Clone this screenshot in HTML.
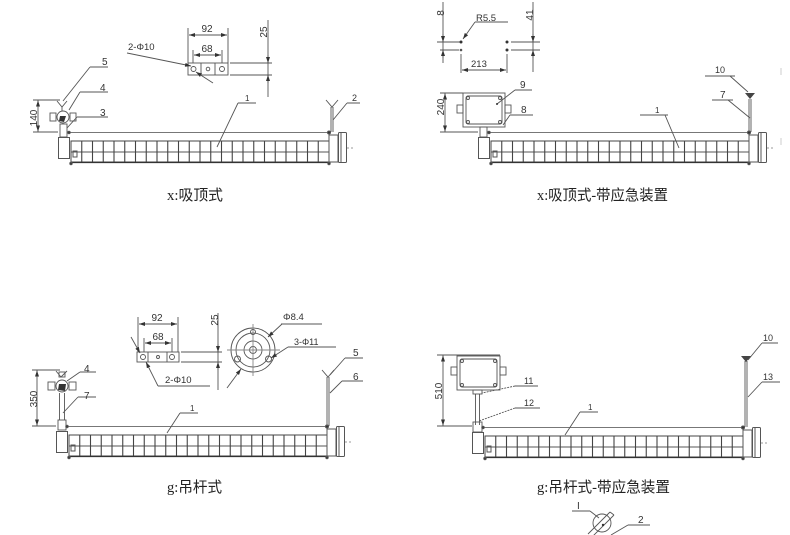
<!DOCTYPE html>
<html><head><meta charset="utf-8">
<style>
html,body{margin:0;padding:0;background:#fff;}
svg{display:block;}
text{font-family:"Liberation Sans","Noto Sans CJK SC",sans-serif;fill:#333;}
.cap{font-family:"Liberation Serif","Noto Sans CJK SC",sans-serif;fill:#222;}
</style></head><body>
<svg width="790" height="535" viewBox="0 0 790 535" xmlns="http://www.w3.org/2000/svg">
<defs>
<marker id="ar" markerWidth="6" markerHeight="4" refX="6" refY="2" orient="auto-start-reverse" markerUnits="userSpaceOnUse">
<path d="M0,0 L6,2 L0,4 z" fill="#333"/>
</marker>
<g id="lamp" fill="none" stroke="#555" stroke-width="1">
<line x1="11" y1="0.5" x2="273" y2="0.5" stroke="#777"/>
<rect x="0.5" y="5.5" width="11" height="21"/>
<rect x="13" y="9" width="258" height="21" stroke="#444"/>
<path d="M13 20H271" stroke="#555"/>
<path d="M23.75 9V30M34.5 9V30M45.25 9V30M56 9V30M66.75 9V30M77.5 9V30M88.25 9V30M99 9V30M109.75 9V30M120.5 9V30M131.25 9V30M142 9V30M152.75 9V30M163.5 9V30M174.25 9V30M185 9V30M195.75 9V30M206.5 9V30M217.25 9V30M228 9V30M238.75 9V30M249.5 9V30M260.25 9V30" stroke="#444" stroke-width="1.1"/>
<rect x="15" y="19" width="4" height="6"/>
<line x1="13" y1="30.5" x2="271" y2="30.5" stroke="#333" stroke-width="1.2"/>
<rect x="271" y="3" width="9" height="27"/>
<rect x="280.5" y="0.5" width="8" height="30" rx="1"/>
<line x1="283" y1="1" x2="283" y2="30"/>
<line x1="289" y1="16" x2="295" y2="16" stroke-dasharray="2 2" stroke="#999"/>
<circle cx="13" cy="31.5" r="1.2" fill="#333"/>
<circle cx="271" cy="31.5" r="1.2" fill="#333"/>
<circle cx="271" cy="0.5" r="1.5" fill="#333"/>
<circle cx="11" cy="0.5" r="1.2" fill="#333"/>
</g>
</defs>

<!-- ============ TOP LEFT ============ -->
<use href="#lamp" transform="translate(58,132)"/>
<g fill="none" stroke="#555" stroke-width="0.9">
  <path d="M57 101 L62 107 L67 101"/>
  <line x1="62" y1="107" x2="62" y2="111"/>
  <circle cx="63" cy="117" r="6"/>
  <rect x="50" y="113" width="6" height="8"/>
  <rect x="70" y="113" width="6" height="8"/>
  <rect x="60" y="124" width="7" height="13"/>
  <path d="M326 100 L332 107 L338 100"/>
  <path d="M331 107V132M333 107V132"/>
  <path d="M33 100H60M33 132H58"/>
  <line x1="38" y1="108" x2="38" y2="100.5" marker-end="url(#ar)"/>
  <line x1="38" y1="124" x2="38" y2="131.5" marker-end="url(#ar)"/>
  <line x1="38" y1="108" x2="38" y2="124"/>
  <path d="M90 67H108M90 67L63 101"/>
  <path d="M80 92H108M80 92L69 110"/>
  <path d="M77 117H108M77 117L67 128"/>
  <path d="M238 103H256M238 103L217 147"/>
  <path d="M347 103H360M347 103L333 120"/>
  <rect x="188" y="63" width="40" height="12"/>
  <path d="M201 63V75M215 63V75"/>
  <circle cx="193.5" cy="69" r="2.5"/>
  <circle cx="208" cy="69" r="1.8"/>
  <circle cx="222" cy="69" r="2.5"/>
  <path d="M188 28V63M228 28V63"/>
  <line x1="189" y1="35" x2="227" y2="35" marker-start="url(#ar)" marker-end="url(#ar)"/>
  <path d="M193 50V63M222 50V63"/>
  <line x1="194" y1="55" x2="221" y2="55" marker-start="url(#ar)" marker-end="url(#ar)"/>
  <path d="M230 63H272M230 75H272"/>
  <line x1="268" y1="20" x2="268" y2="97"/>
  <line x1="268" y1="55" x2="268" y2="63" marker-end="url(#ar)"/>
  <line x1="268" y1="83" x2="268" y2="75" marker-end="url(#ar)"/>
  <line x1="127" y1="53" x2="191" y2="66" marker-end="url(#ar)"/>
  <line x1="213" y1="83" x2="196" y2="72" marker-end="url(#ar)"/>
</g>
<path d="M60 116 L66 116 L64 122 L59 121 Z" fill="#333"/>
<text x="102" y="65" font-size="10">5</text>
<text x="100" y="91" font-size="10">4</text>
<text x="100" y="116" font-size="10">3</text>
<text x="245" y="101" font-size="8">1</text>
<text x="352" y="101" font-size="9">2</text>
<text x="128" y="50" font-size="9.5">2-Φ10</text>
<text x="207" y="32" font-size="10" text-anchor="middle">92</text>
<text x="207" y="52" font-size="10" text-anchor="middle">68</text>
<text transform="translate(267,32) rotate(-90)" font-size="10" text-anchor="middle">25</text>
<text transform="translate(37,118) rotate(-90)" font-size="10" text-anchor="middle">140</text>
<text class="cap" x="167" y="200" font-size="15" textLength="56" lengthAdjust="spacingAndGlyphs">x:吸顶式</text>

<!-- ============ TOP RIGHT ============ -->
<use href="#lamp" transform="translate(478,132)"/>
<g fill="none" stroke="#555" stroke-width="0.9">
  <line x1="443" y1="2" x2="443" y2="63"/>
  <path d="M437 42H460M440 50H459"/>
  <line x1="443" y1="34" x2="443" y2="42" marker-end="url(#ar)"/>
  <line x1="443" y1="58" x2="443" y2="50" marker-end="url(#ar)"/>
  <path d="M475 22H508"/>
  <line x1="475" y1="22" x2="463" y2="39" marker-end="url(#ar)"/>
  <line x1="533" y1="2" x2="533" y2="72"/>
  <path d="M511 42H540M511 50H540"/>
  <line x1="533" y1="34" x2="533" y2="42" marker-end="url(#ar)"/>
  <line x1="533" y1="58" x2="533" y2="50" marker-end="url(#ar)"/>
  <path d="M461 54V73M507 54V73"/>
  <line x1="462" y1="70" x2="506" y2="70" marker-start="url(#ar)" marker-end="url(#ar)"/>
  <rect x="463" y="93" width="42" height="34"/>
  <rect x="466" y="96" width="36" height="28" rx="2"/>
  <rect x="457" y="105" width="6" height="8"/>
  <rect x="505" y="105" width="6" height="8"/>
  <circle cx="468" cy="98" r="1.5"/><circle cx="500" cy="98" r="1.5"/>
  <circle cx="468" cy="122" r="1.5"/><circle cx="500" cy="122" r="1.5"/>
  <rect x="480" y="127" width="7" height="10"/>
  <path d="M440 93H463M440 132H478"/>
  <line x1="445" y1="108" x2="445" y2="93.5" marker-end="url(#ar)"/>
  <line x1="445" y1="116" x2="445" y2="131.5" marker-end="url(#ar)"/>
  <line x1="445" y1="108" x2="445" y2="116"/>
  <path d="M749 99V132M751 99V132"/>
  <path d="M515 90H532M515 90L497 104"/>
  <path d="M510 115H533M510 115L503 125"/>
  <path d="M640 115H668M665 115L679 148"/>
  <path d="M705 76H735M730 76L748 92"/>
  <path d="M712 100H733M728 100L750 118"/>
</g>
<path d="M745 93 L755 93 L750 99 Z" fill="#444"/>
<circle cx="461" cy="42" r="1.5" fill="#333"/><circle cx="461" cy="50" r="1.3" fill="#555"/>
<circle cx="507" cy="42" r="1.5" fill="#333"/><circle cx="507" cy="50" r="1.5" fill="#333"/>
<circle cx="497" cy="104" r="1" fill="#333"/>
<text x="476" y="21" font-size="9.5">R5.5</text>
<text x="471" y="67" font-size="9.5">213</text>
<text transform="translate(444,13) rotate(-90)" font-size="10" text-anchor="middle">8</text>
<text transform="translate(533,15) rotate(-90)" font-size="10" text-anchor="middle">41</text>
<text transform="translate(444,107) rotate(-90)" font-size="10" text-anchor="middle">240</text>
<text x="520" y="88" font-size="10">9</text>
<text x="521" y="113" font-size="10">8</text>
<text x="655" y="113" font-size="8">1</text>
<text x="715" y="73" font-size="9">10</text>
<text x="720" y="98" font-size="10">7</text>
<line x1="781" y1="68" x2="781" y2="75" stroke="#ccc"/>
<line x1="781" y1="138" x2="781" y2="145" stroke="#ccc"/>
<text class="cap" x="537" y="200" font-size="15" textLength="131" lengthAdjust="spacingAndGlyphs">x:吸顶式-带应急装置</text>

<!-- ============ BOTTOM LEFT ============ -->
<use href="#lamp" transform="translate(56,426)"/>
<g fill="none" stroke="#555" stroke-width="0.9">
  <path d="M56 371 L61 377 L67 371"/>
  <circle cx="62" cy="386" r="6"/>
  <rect x="48" y="382" width="7" height="8"/>
  <rect x="69" y="382" width="7" height="8"/>
  <rect x="59" y="372" width="6" height="5"/>
  <path d="M59.5 393V420M64.5 393V420"/>
  <rect x="58" y="420" width="8" height="10"/>
  <path d="M32 370H60M32 426H56"/>
  <line x1="37" y1="390" x2="37" y2="370.5" marker-end="url(#ar)"/>
  <line x1="37" y1="408" x2="37" y2="425.5" marker-end="url(#ar)"/>
  <line x1="37" y1="390" x2="37" y2="408"/>
  <path d="M322 370 L328 377 L334 370"/>
  <path d="M327 377V426M329 377V426"/>
  <path d="M80 372H96M80 372L67 381"/>
  <path d="M78 397H96M78 397L63 413"/>
  <path d="M180 413H198M180 413L167 433"/>
  <path d="M345 358H363M345 358L330 375"/>
  <path d="M342 381H363M342 381L330 393"/>
  <rect x="137" y="352" width="42" height="10"/>
  <path d="M148 352V362M167 352V362"/>
  <circle cx="143" cy="357" r="2.5"/>
  <circle cx="158" cy="357" r="1.5"/>
  <circle cx="172" cy="357" r="2.5"/>
  <path d="M138 317V352M178 317V352"/>
  <line x1="139" y1="324" x2="177" y2="324" marker-start="url(#ar)" marker-end="url(#ar)"/>
  <path d="M144 338V352M172 338V352"/>
  <line x1="145" y1="343" x2="171" y2="343" marker-start="url(#ar)" marker-end="url(#ar)"/>
  <path d="M181 352H222M181 362H222"/>
  <line x1="218" y1="313" x2="218" y2="390"/>
  <line x1="218" y1="344" x2="218" y2="352" marker-end="url(#ar)"/>
  <line x1="218" y1="370" x2="218" y2="362" marker-end="url(#ar)"/>
  <line x1="131" y1="337" x2="140" y2="353" marker-end="url(#ar)"/>
  <line x1="158" y1="386" x2="146" y2="362" marker-end="url(#ar)"/>
  <path d="M158 386H210"/>
  <circle cx="253" cy="350" r="22"/>
  <circle cx="253" cy="350" r="17"/>
  <circle cx="253" cy="350" r="9"/>
  <circle cx="253" cy="350" r="3.5"/>
  <path d="M227 350H280M253 324V376" stroke="#888"/>
  <circle cx="253" cy="332" r="2.5"/>
  <circle cx="237.5" cy="359" r="3"/>
  <circle cx="268.5" cy="359" r="3"/>
  <line x1="227" y1="388" x2="241" y2="369" marker-end="url(#ar)"/>
  <path d="M281 324H322"/>
  <line x1="282" y1="324" x2="268" y2="337" marker-end="url(#ar)"/>
  <path d="M288 347H336"/>
  <line x1="288" y1="347" x2="271" y2="358" marker-end="url(#ar)"/>
</g>
<path d="M59 384 L66 384 L65 391 L58 390 Z" fill="#333"/>
<text x="84" y="372" font-size="10">4</text>
<text x="84" y="399" font-size="10">7</text>
<text x="190" y="411" font-size="8">1</text>
<text x="353" y="356" font-size="10">5</text>
<text x="353" y="380" font-size="10">6</text>
<text x="157" y="321" font-size="10" text-anchor="middle">92</text>
<text x="158" y="340" font-size="10" text-anchor="middle">68</text>
<text transform="translate(218,320) rotate(-90)" font-size="10" text-anchor="middle">25</text>
<text transform="translate(37,399) rotate(-90)" font-size="10" text-anchor="middle">350</text>
<text x="165" y="383" font-size="9.5">2-Φ10</text>
<text x="283" y="320" font-size="9.5">Φ8.4</text>
<text x="294" y="345" font-size="9">3-Φ11</text>
<text class="cap" x="167" y="492" font-size="15" textLength="55" lengthAdjust="spacingAndGlyphs">g:吊杆式</text>

<!-- ============ BOTTOM RIGHT ============ -->
<use href="#lamp" transform="translate(472,427)"/>
<g fill="none" stroke="#555" stroke-width="0.9">
  <rect x="457" y="356" width="43" height="34"/>
  <rect x="460" y="359" width="37" height="28" rx="2"/>
  <rect x="451" y="367" width="6" height="8"/>
  <rect x="500" y="367" width="6" height="8"/>
  <circle cx="462" cy="361" r="1.5"/><circle cx="495" cy="361" r="1.5"/>
  <circle cx="462" cy="385" r="1.5"/><circle cx="495" cy="385" r="1.5"/>
  <rect x="473" y="390" width="9" height="4"/>
  <path d="M475.5 394V425M479.5 394V425"/>
  <rect x="473" y="422" width="9" height="10"/>
  <path d="M437 355H500M437 426H472"/>
  <line x1="443" y1="375" x2="443" y2="355.5" marker-end="url(#ar)"/>
  <line x1="443" y1="405" x2="443" y2="425.5" marker-end="url(#ar)"/>
  <line x1="443" y1="375" x2="443" y2="405"/>
  <path d="M745 361V427M747 361V427"/>
  <path d="M515 386H538"/>
  <path d="M515 386L482 393" stroke-dasharray="2 1"/>
  <path d="M515 408H540"/>
  <path d="M515 408L479 421" stroke-dasharray="2 1"/>
  <path d="M580 412H598M580 412L565 435"/>
  <path d="M762 343H778M762 343L748 360"/>
  <path d="M762 382H780M762 382L748 397"/>
  <circle cx="602" cy="523" r="9"/>
  <path d="M588 534 L610 512 M592 537 L614 515 M610 512 L614 515"/>
  <path d="M572 511H590M590 511L599 518"/>
  <path d="M628 525H650M628 525L611 535"/>
</g>
<path d="M741 356 L751 356 L746 362 Z" fill="#444"/>
<circle cx="603" cy="525" r="1.2" fill="#333"/>
<text x="524" y="384" font-size="9">11</text>
<text x="524" y="406" font-size="9">12</text>
<text x="588" y="410" font-size="8">1</text>
<text x="763" y="341" font-size="9">10</text>
<text x="763" y="380" font-size="9">13</text>
<text x="577" y="509" font-size="10">I</text>
<text x="638" y="523" font-size="10">2</text>
<text transform="translate(442,391) rotate(-90)" font-size="10" text-anchor="middle">510</text>
<text class="cap" x="537" y="492" font-size="15" textLength="133" lengthAdjust="spacingAndGlyphs">g:吊杆式-带应急装置</text>
</svg>
</body></html>
